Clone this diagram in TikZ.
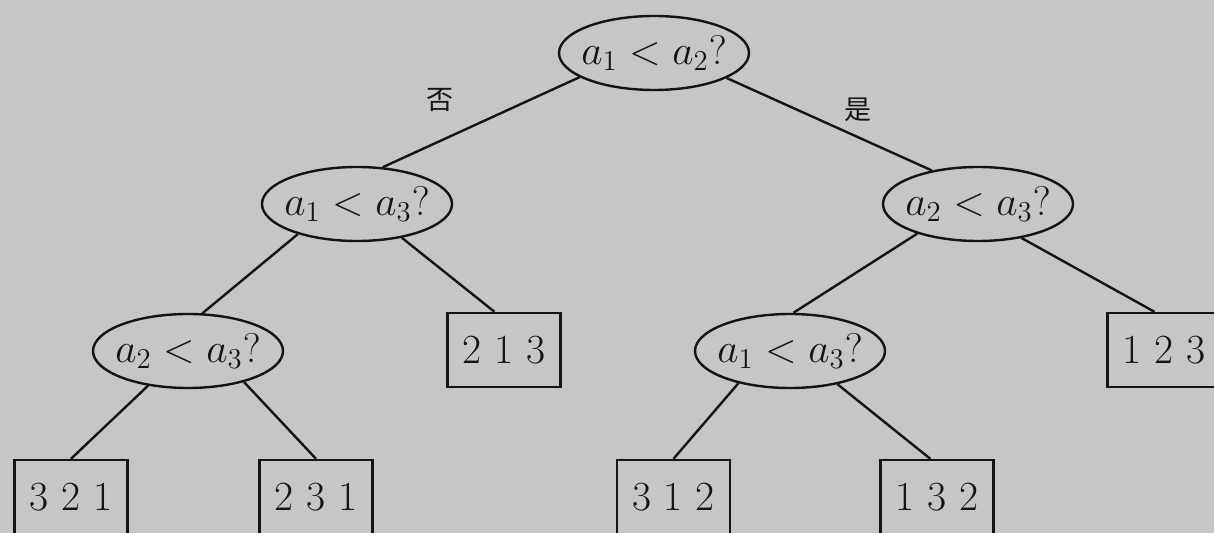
\documentclass[tikz,border=0pt]{standalone}
\usepackage{fontspec}
\newfontfamily\cjk{Noto Sans CJK SC}
\usetikzlibrary{shapes.geometric}
\definecolor{paper}{RGB}{198,198,198}
\definecolor{ink}{RGB}{20,20,20}
\tikzset{
  cond/.style={ellipse, draw=ink, line width=1.2pt, minimum width=95pt,
    minimum height=37pt, inner sep=0pt},
  leaf/.style={rectangle, draw=ink, line width=1.2pt, minimum width=56.5pt,
    minimum height=37pt, inner sep=0pt},
  edge/.style={draw=ink, line width=1.2pt},
  branch/.style={font=\cjk\fontsize{13.5}{16}\selectfont, text=ink, inner sep=0pt}
}
\begin{document}
\begin{tikzpicture}[x=0.5pt, y=-0.5pt, font=\fontsize{20.74}{25}\selectfont, text=ink]
  \useasboundingbox (0,0) rectangle (1214,533);
  \fill[paper] (0,0) rectangle (1214,533);
  \clip (0,0) rectangle (1214,533);

  % comparison nodes
  \node[cond, label=center:{$a_1<a_2?$}] (r)  at (654,53)  {};
  \node[cond, label=center:{$a_1<a_3?$}] (l)  at (357,204) {};
  \node[cond, label=center:{$a_2<a_3?$}] (rr) at (978,204) {};
  \node[cond, label=center:{$a_2<a_3?$}] (ll) at (188,351) {};
  \node[cond, label=center:{$a_1<a_3?$}] (rl) at (790,351) {};

  % outcomes
  \node[leaf] (b213) at (504,350)   {2 1 3};
  \node[leaf] (b123) at (1164,350)  {1 2 3};
  \node[leaf] (b321) at (71,497)    {3 2 1};
  \node[leaf] (b231) at (316,497)   {2 3 1};
  \node[leaf] (b312) at (673.5,497) {3 1 2};
  \node[leaf] (b132) at (937,497)   {1 3 2};

  % branches
  \draw[edge] (r.-162) -- (l.55);
  \draw[edge] (r.-19)  -- (rr.144);
  \draw[edge] (l.-153) -- (ll.69);
  \draw[edge] (l.-37)  -- (b213.104);
  \draw[edge] (rr.-154) -- (rl.85);
  \draw[edge] (rr.-38) -- (b123.104);
  \draw[edge] (ll.-139) -- (b321.north);
  \draw[edge] (ll.-29) -- (b231.north);
  \draw[edge] (rl.-148) -- (b312.north);
  \draw[edge] (rl.-35) -- (b132.100);

  % branch labels
  \node[branch] (no)  at (440,100) {否};
  \node[branch] (yes) at (858,110) {是};
\end{tikzpicture}
\end{document}
